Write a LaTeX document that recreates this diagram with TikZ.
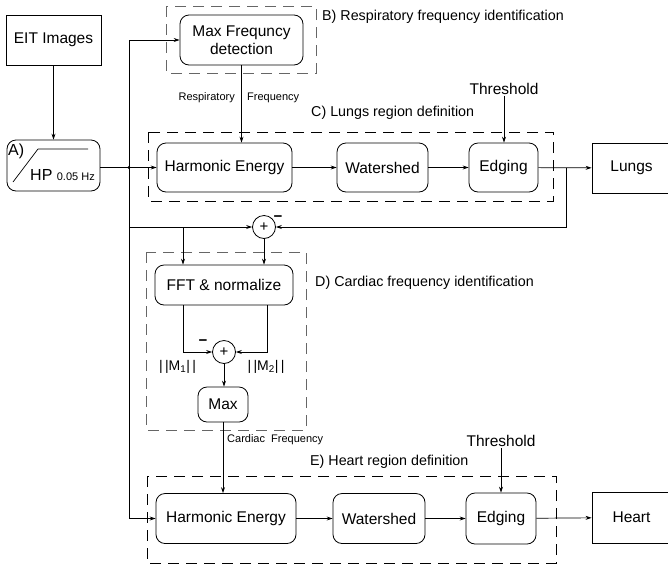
\documentclass[tikz,border=0pt]{standalone}
\usepackage{fontspec}
\setmainfont{Liberation Sans}
\usetikzlibrary{arrows.meta,calc}
\newcommand\fsz[2]{\fontsize{#1}{#2}\selectfont}
\tikzset{
  box/.style={draw, rounded corners=9pt, line width=0.8pt, align=center, inner sep=0pt, font=\fsz{15.5}{18}},
  sqbox/.style={draw, line width=0.8pt, align=center, inner sep=0pt, font=\fsz{15.5}{18}},
  grp/.style={draw, dash pattern=on 11pt off 7pt, line width=0.9pt},
  ggrp/.style={grp, draw=black!60},
  lbl/.style={inner sep=0pt, anchor=west, font=\fsz{14.3}{17}},
  small/.style={inner sep=0pt, font=\fsz{11}{13}},
  arr/.style={-{Stealth[length=6pt,width=4pt]}, line width=0.7pt},
  ln/.style={line width=0.7pt},
  sumc/.style={draw, circle, minimum size=23pt, inner sep=0pt, line width=0.8pt, font=\fsz{15}{17}},
  minus/.style={inner sep=0pt, font=\fsz{15}{17}\bfseries}
}
\begin{document}
\begin{tikzpicture}[x=1pt,y=-1pt]
\useasboundingbox (0,0) rectangle (668,568);
% group frames
\draw[ggrp] (166,6) rectangle (316,73);
\draw[grp] (148,132) rectangle (553,201);
\draw[ggrp] (146,252) rectangle (306,430);
\draw[grp] (147,476) rectangle (556,563);
% group labels
\node[lbl] (lb) at (322,17) {B) Respiratory frequency identification};
\node[lbl] (lc) at (311,113) {C) Lungs region definition};
\node[lbl] (ld) at (315,283) {D) Cardiac frequency identification};
\node[lbl] (le) at (310,462) {E) Heart region definition};
% nodes
\node[sqbox, minimum width=95pt, minimum height=50pt] (eit) at (53.5,40) {EIT Images};
\node[box, minimum width=93pt, minimum height=51pt] (hp) at (53.5,165.5) {};
\node[inner sep=0pt, anchor=north west, font=\fsz{16}{18}] (hpa) at (8,144) {A)};
\draw[ln] (13,182) -- (38,149) -- (88,149);
\node[anchor=base west, inner sep=0pt, font=\fsz{16}{18}] (hpt) at (30,180.5) {HP {\fsz{11}{13}0.05 Hz}};
\node[box, minimum width=123pt, minimum height=50pt] (maxf) at (241.5,40) {Max Frequncy\\detection};
\node[box, minimum width=135pt, minimum height=49pt] (he1) at (224.5,167.5) {Harmonic Energy};
\node[box, minimum width=91pt, minimum height=49pt] (ws1) at (382.5,167.5) {Watershed};
\node[box, minimum width=69pt, minimum height=49pt] (ed1) at (503.5,167.5) {Edging};
\node[sqbox, minimum width=79pt, minimum height=50pt] (lungs) at (631.5,168) {Lungs};
\node[inner sep=1.5pt, font=\fsz{15.5}{18}] (thr1) at (504,88.5) {Threshold};
\node[sumc] (sum1) at (264,227) {+};
\node[minus] (m1) at (278,218.5) {−};
\node[box, minimum width=138pt, minimum height=40pt] (fft) at (224,285) {FFT \& normalize};
\node[sumc] (sum2) at (224,352) {+};
\node[minus] (m2) at (203,343) {−};
\node[inner sep=0pt, font=\fsz{14}{16}] (n1) at (177.5,367) {|\,|M\textsubscript{1}|\,|};
\node[inner sep=0pt, font=\fsz{14}{16}] (n2) at (266,367) {|\,|M\textsubscript{2}|\,|};
\node[box, minimum width=50pt, minimum height=35pt] (maxb) at (223,404.5) {Max};
\node[box, minimum width=140pt, minimum height=50pt] (he2) at (226,518.5) {Harmonic Energy};
\node[box, minimum width=92pt, minimum height=50pt] (ws2) at (379,518.5) {Watershed};
\node[box, minimum width=70pt, minimum height=51pt] (ed2) at (501,518.5) {Edging};
\node[sqbox, minimum width=79pt, minimum height=51pt] (heart) at (631.5,517.5) {Heart};
\node[inner sep=1.5pt, font=\fsz{15.5}{18}] (thr2) at (501,441) {Threshold};
% small labels
\node[small, anchor=east] (rl) at (235,98) {Respiratory};
\node[small, anchor=west] (rf) at (247,98) {Frequency};
\node[small, anchor=west] (cf) at (227,440) {Cardiac~~Frequency};
% connectors
\draw[arr] (eit.south) -- (hp.north);
\draw[arr] (hp.east |- he1.west) -- (he1.west);
\coordinate (j1) at (129,167.5);
\fill (j1) circle (1.6pt);
\draw[arr] (j1) |- (maxf.west);
\draw[arr] (j1) |- (he2.west);
\draw[arr] (j1 |- sum1.west) -- (sum1.west);
\coordinate (b1) at (183,227);
\draw[arr] (b1) -- (b1 |- fft.north);
\draw[arr] (maxf.south) -- (maxf.south |- he1.north);
\draw[arr] (he1) -- (ws1);
\draw[arr] (ws1) -- (ed1);
\draw[arr] (ed1) -- (lungs);
\draw[arr] (thr1.south) -- (thr1.south |- ed1.north);
\coordinate (br) at (566,167.5);
\draw[arr] (br) |- (sum1.east);
\draw[arr] (sum1.south) -- (sum1.south |- fft.north);
\draw[arr] (fft.south -| b1) |- (sum2.west);
\draw[arr] ([xshift=43pt]fft.south) |- (sum2.east);
\draw[arr] (sum2.south) -- (sum2.south |- maxb.north);
\draw[arr] (maxb.south) -- (maxb.south |- he2.north);
\draw[arr] (he2) -- (ws2);
\draw[arr] (ws2) -- (ed2);
\draw[arr] (ed2) -- (heart);
\draw[arr] (thr2.south) -- (thr2.south |- ed2.north);
\end{tikzpicture}
\end{document}
